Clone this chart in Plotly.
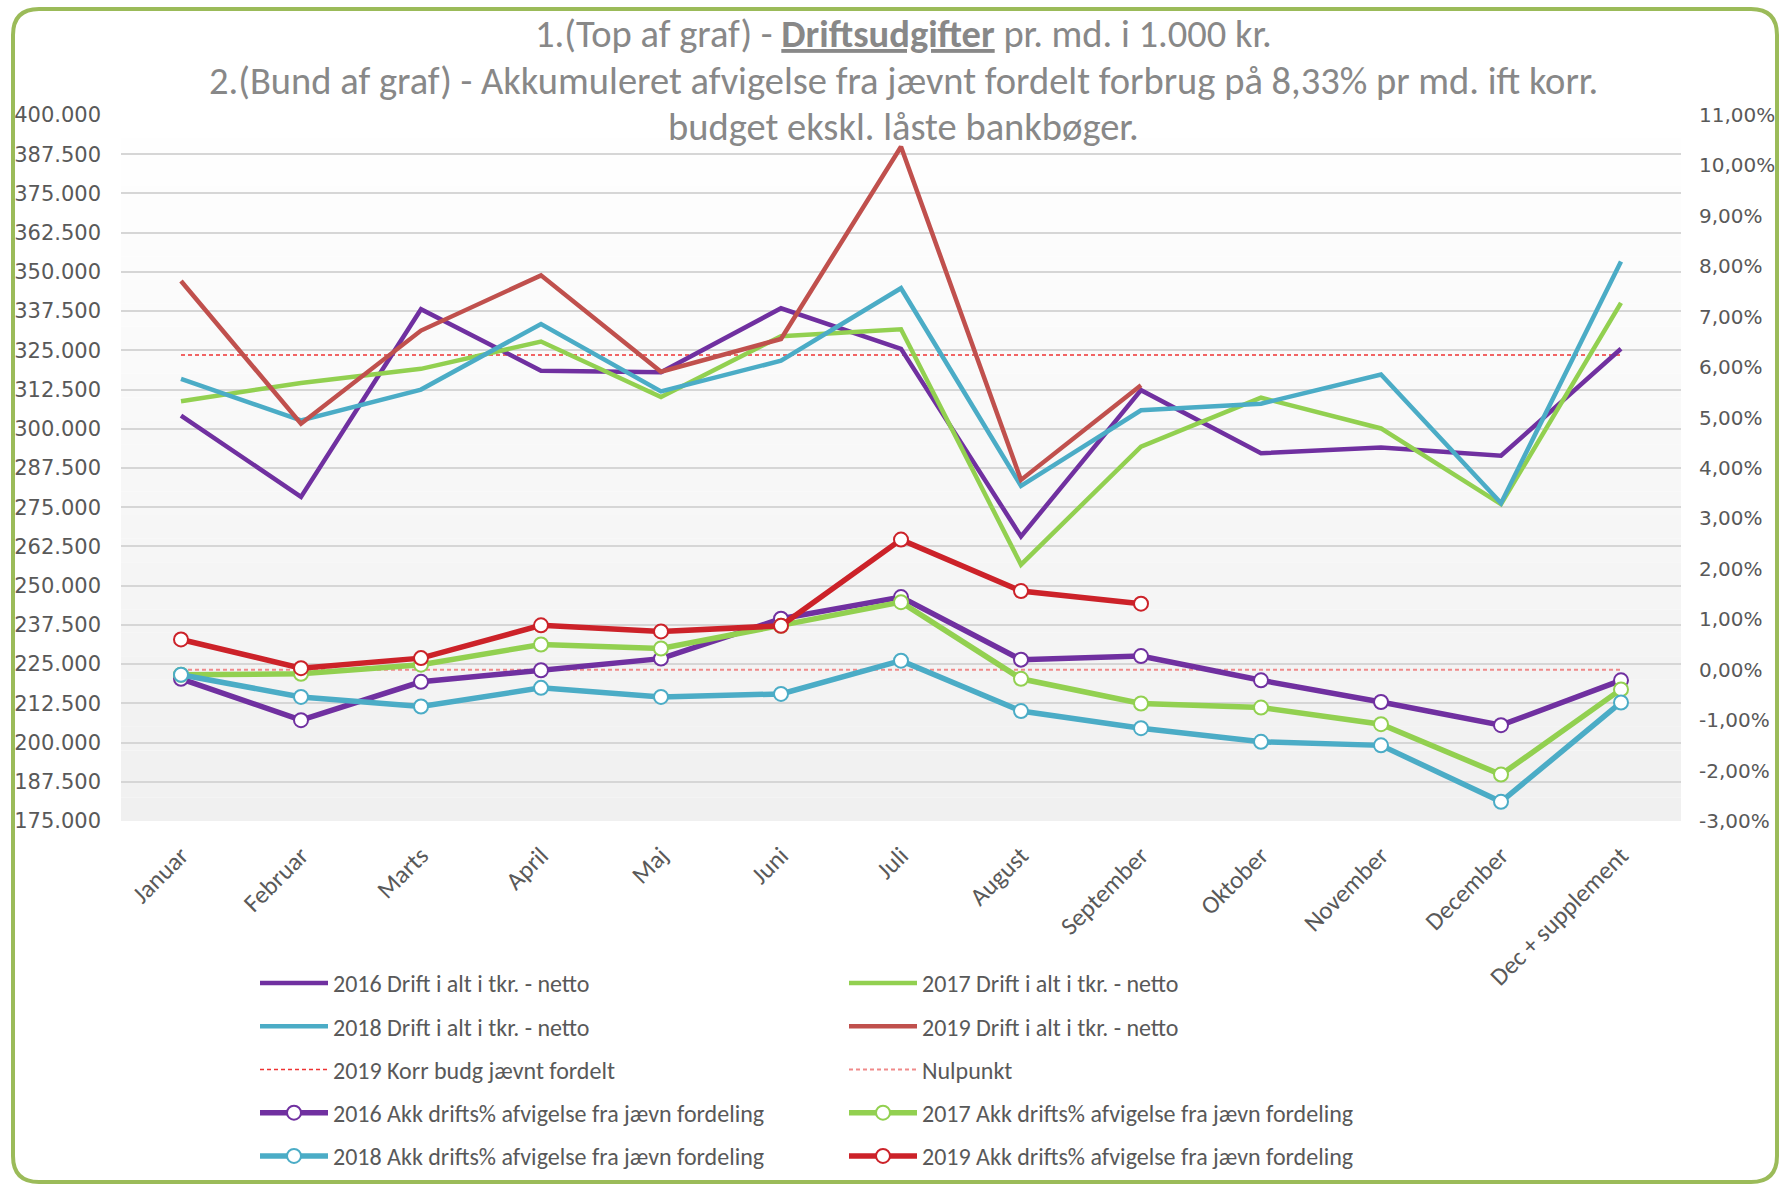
import plotly.graph_objects as go

# ---------------- data ----------------
months = ["Januar", "Februar", "Marts", "April", "Maj", "Juni", "Juli", "August",
          "September", "Oktober", "November", "December", "Dec + supplement"]

drift_2016 = [304200, 278300, 338100, 318500, 318000, 338400, 325500, 265700, 312300, 292200, 294000, 291400, 325500]
drift_2017 = [308800, 314600, 319100, 327800, 310100, 329500, 331700, 256700, 294300, 309900, 300100, 276000, 340100]
drift_2018 = [315900, 302700, 312500, 333400, 311900, 321700, 344800, 281800, 305900, 308000, 317300, 276300, 353300]
drift_2019 = [347100, 301600, 331300, 348900, 318200, 328600, 389900, 283700, 313900, None, None, None, None]
korr_budg_2019 = [323500, 323500, 323500, 323500, 323500, 323500, 323500, 323500, 323500, 323500, 323500, 323500, 323500]

nulpunkt = [0, 0, 0, 0, 0, 0, 0, 0, 0, 0, 0, 0, 0]
akk_2016 = [-0.18, -1.00, -0.24, -0.01, 0.22, 1.01, 1.44, 0.20, 0.27, -0.21, -0.64, -1.10, -0.21]
akk_2017 = [-0.10, -0.08, 0.10, 0.50, 0.42, 0.87, 1.34, -0.18, -0.67, -0.75, -1.08, -2.08, -0.39]
akk_2018 = [-0.10, -0.54, -0.73, -0.36, -0.54, -0.48, 0.18, -0.82, -1.16, -1.43, -1.50, -2.62, -0.65]
akk_2019 = [0.60, 0.03, 0.23, 0.88, 0.76, 0.87, 2.58, 1.56, 1.31, None, None, None, None]

left_tickvals = [175000, 187500, 200000, 212500, 225000, 237500, 250000, 262500, 275000,
                 287500, 300000, 312500, 325000, 337500, 350000, 362500, 375000, 387500, 400000]
left_ticktext = ["175.000", "187.500", "200.000", "212.500", "225.000", "237.500", "250.000", "262.500", "275.000",
                 "287.500", "300.000", "312.500", "325.000", "337.500", "350.000", "362.500", "375.000", "387.500", "400.000"]
right_tickvals = [-3, -2, -1, 0, 1, 2, 3, 4, 5, 6, 7, 8, 9, 10, 11]
right_ticktext = ["-3,00%", "-2,00%", "-1,00%", "0,00%", "1,00%", "2,00%", "3,00%", "4,00%", "5,00%",
                  "6,00%", "7,00%", "8,00%", "9,00%", "10,00%", "11,00%"]

# ---------------- styling ----------------
W, H = 1781, 1186
L, R, T, B = 121, 100, 115, 365
PW, PH = W - L - R, H - T - B

def fx(x):
    return (x - L) / PW

def fy(y):
    return (H - B - y) / PH

PURPLE = "#7030a0"
GREEN = "#92d050"
CYAN = "#4bacc6"
RED = "#c0504d"
RED2 = "#cc2229"
TXT = "#595959"
FONT = "Carlito, Lato, sans-serif"
TICKFONT = "DejaVu Sans, Verdana, sans-serif"

fig = go.Figure()

# dashed reference lines
fig.add_trace(go.Scatter(x=months, y=korr_budg_2019, name="2019 Korr budg jævnt fordelt", mode="lines",
                         line=dict(color="#ee3333", width=1.5, dash="4px,3px"),
                         legend="legend", legendgroup="g3", legendrank=3))
fig.add_trace(go.Scatter(x=months, y=nulpunkt, name="Nulpunkt", mode="lines", yaxis="y2",
                         line=dict(color="#f08a8a", width=2, dash="4px,3px"),
                         legend="legend2", legendgroup="h3", legendrank=3))

# drift lines
drift = [("2016 Drift i alt i tkr. - netto", drift_2016, PURPLE, "legend", "g1", 1),
         ("2017 Drift i alt i tkr. - netto", drift_2017, GREEN, "legend2", "h1", 1),
         ("2018 Drift i alt i tkr. - netto", drift_2018, CYAN, "legend", "g2", 2),
         ("2019 Drift i alt i tkr. - netto", drift_2019, RED, "legend2", "h2", 2)]
for name, vals, col, lg, grp, rk in drift:
    fig.add_trace(go.Scatter(x=months, y=vals, name=name, mode="lines",
                             line=dict(color=col, width=4.5), legend=lg, legendgroup=grp, legendrank=rk))

# accumulated deviation lines
akk = [("2016 Akk drifts% afvigelse fra jævn fordeling", akk_2016, PURPLE, "legend", "g4", 4),
       ("2017 Akk drifts% afvigelse fra jævn fordeling", akk_2017, GREEN, "legend2", "h4", 4),
       ("2018 Akk drifts% afvigelse fra jævn fordeling", akk_2018, CYAN, "legend", "g5", 5),
       ("2019 Akk drifts% afvigelse fra jævn fordeling", akk_2019, RED2, "legend2", "h5", 5)]
for name, vals, col, lg, grp, rk in akk:
    fig.add_trace(go.Scatter(x=months, y=vals, name=name, mode="lines+markers", yaxis="y2",
                             line=dict(color=col, width=5.5),
                             marker=dict(symbol="circle", size=14, color="white", line=dict(color=col, width=2)),
                             legend=lg, legendgroup=grp, legendrank=rk))

# background gradient in plot area + outer rounded border
shapes = []
n = 30
for i in range(n):
    t = i / (n - 1)
    c = int(round(255 - 15 * t))
    shapes.append(dict(type="rect", xref="paper", yref="paper", x0=0, x1=1,
                       y0=1 - (i + 1) / n, y1=1 - i / n, layer="below",
                       line=dict(width=0), fillcolor=f"rgb({c},{c},{c})"))
x0, y0, x1, y1, r = 13, 9, 1777, 1182, 26
path = (f"M{fx(x0 + r)},{fy(y0)} L{fx(x1 - r)},{fy(y0)} Q{fx(x1)},{fy(y0)} {fx(x1)},{fy(y0 + r)} "
        f"L{fx(x1)},{fy(y1 - r)} Q{fx(x1)},{fy(y1)} {fx(x1 - r)},{fy(y1)} "
        f"L{fx(x0 + r)},{fy(y1)} Q{fx(x0)},{fy(y1)} {fx(x0)},{fy(y1 - r)} "
        f"L{fx(x0)},{fy(y0 + r)} Q{fx(x0)},{fy(y0)} {fx(x0 + r)},{fy(y0)} Z")
shapes.append(dict(type="path", xref="paper", yref="paper", path=path, layer="above",
                   line=dict(color="#9bbb59", width=4)))

title_font = dict(family=FONT, size=38.5, color="#888888", weight=300)
annotations = [
    dict(text="1.(Top af graf) - <b><u>Driftsudgifter</u></b> pr. md. i 1.000 kr.", x=fx(903), y=fy(34)),
    dict(text="2.(Bund af graf) - Akkumuleret afvigelse fra jævnt fordelt forbrug på 8,33% pr md. ift korr.", x=fx(903), y=fy(81)),
    dict(text="budget ekskl. låste bankbøger.", x=fx(903), y=fy(127)),
]
for a in annotations:
    a.update(xref="paper", yref="paper", showarrow=False, xanchor="center", yanchor="middle", font=title_font)

legend_common = dict(orientation="v", bgcolor="rgba(0,0,0,0)", font=dict(family=FONT, size=24, color=TXT),
                     tracegroupgap=9, itemwidth=68, xanchor="left", yanchor="top")

fig.update_layout(
    width=W, height=H,
    margin=dict(l=L, r=R, t=T, b=B, pad=0, autoexpand=False),
    paper_bgcolor="white", plot_bgcolor="white",
    showlegend=True,
    shapes=shapes,
    annotations=annotations,
    xaxis=dict(type="category", range=[-0.5, 12.5], tickangle=-45, showgrid=False, zeroline=False,
               showline=False, ticks="", tickfont=dict(family=FONT, size=25, color=TXT), ticklabelstandoff=14),
    yaxis=dict(range=[175000, 400000], tickvals=left_tickvals, ticktext=left_ticktext,
               showgrid=True, gridcolor="#d6d6d6", gridwidth=1.5, zeroline=False, showline=False, ticks="",
               tickfont=dict(family=TICKFONT, size=21, color=TXT), ticklabelstandoff=19),
    yaxis2=dict(range=[-3, 11], tickvals=right_tickvals, ticktext=right_ticktext, overlaying="y", side="right",
                showgrid=False, zeroline=False, showline=False, ticks="",
                tickfont=dict(family=TICKFONT, size=20, color=TXT), ticklabelstandoff=17),
    legend=dict(x=fx(255), y=fy(961), **legend_common),
    legend2=dict(x=fx(844), y=fy(961), **legend_common),
)

fig.write_html("out.html", config={"displayModeBar": False},
               post_script="document.body.style.margin='0';document.body.style.overflow='hidden';")
